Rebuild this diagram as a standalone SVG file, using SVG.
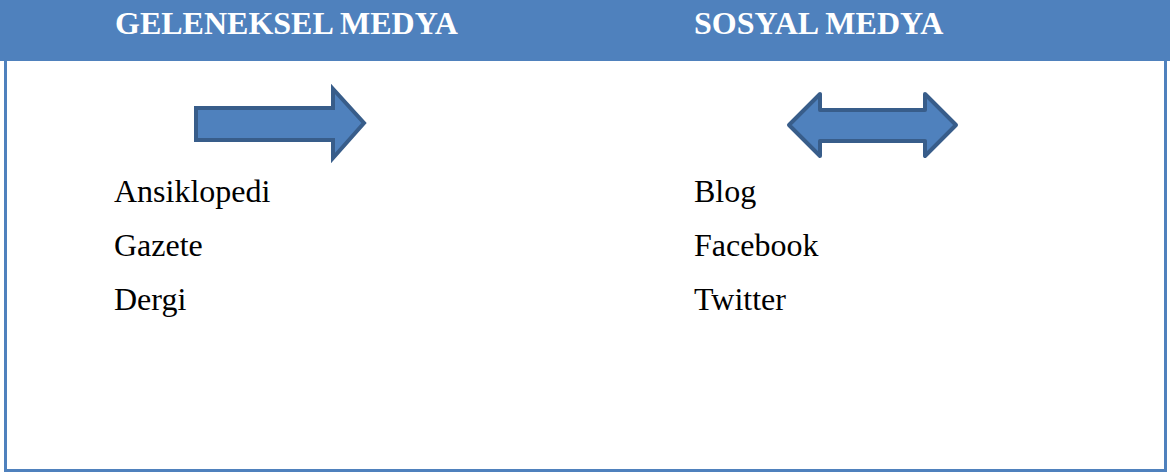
<svg xmlns="http://www.w3.org/2000/svg" width="1170" height="473" viewBox="0 0 1170 473">
<style>
.hdr{font-family:"Liberation Serif","Times New Roman",serif;font-weight:bold;font-size:32px;fill:#ffffff}
.item{font-family:"Liberation Serif","Times New Roman",serif;font-size:32px;fill:#000000}
.arrow{fill:#4F81BD;stroke:#385D8A;stroke-width:4}
</style>
<rect x="0" y="0" width="1170" height="473" fill="#ffffff"/>
<g id="frame">
<rect x="5.5" y="1" width="1160" height="469.5" fill="none" stroke="#4F81BD" stroke-width="3"/>
<rect x="0" y="0" width="1170" height="61" fill="#4F81BD"/>
</g>
<g id="header-left"><text class="hdr" x="115" y="34">GELENEKSEL MEDYA</text></g>
<g id="header-right"><text class="hdr" x="694" y="34">SOSYAL MEDYA</text></g>
<g id="arrow-right">
<polygon class="arrow" stroke-linejoin="miter" points="196,108 333,108 333,89 364,123 333,158 333,140 196,140"/>
</g>
<g id="arrow-double">
<polygon class="arrow" stroke-linejoin="round" points="789,125 820,94 820,110 925,110 925,94 956,125 925,156 925,141 820,141 820,156"/>
</g>
<g id="list-left">
<text class="item" x="114" y="202">Ansiklopedi</text>
<text class="item" x="114" y="256">Gazete</text>
<text class="item" x="114" y="310">Dergi</text>
</g>
<g id="list-right">
<text class="item" x="694" y="202">Blog</text>
<text class="item" x="694" y="256">Facebook</text>
<text class="item" x="694" y="310">Twitter</text>
</g>
<g id="connectors"></g>
</svg>
